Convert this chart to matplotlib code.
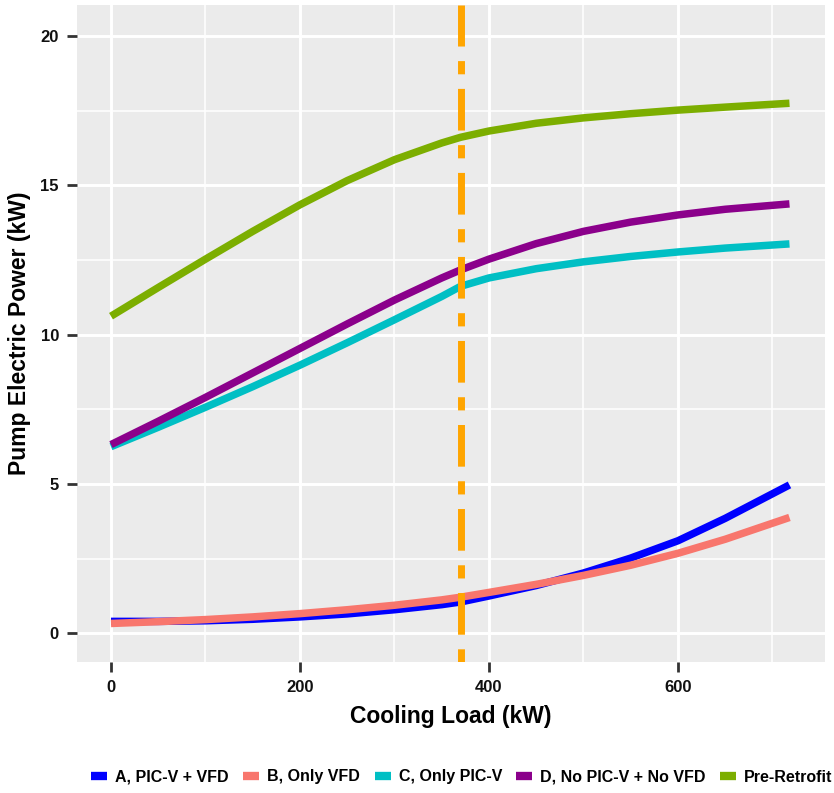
import matplotlib
matplotlib.use("Agg")
import matplotlib.pyplot as plt
from matplotlib.ticker import MultipleLocator
from matplotlib.lines import Line2D

plt.rcParams['font.family'] = ['Liberation Sans', 'DejaVu Sans']

# cooling load (kW)
load = [0, 50, 100, 150, 200, 250, 300, 350, 370, 400, 450, 500, 550, 600, 650, 718]

# pump electric power (kW) per scenario
pump_a = [0.40, 0.40, 0.42, 0.47, 0.55, 0.65, 0.79, 0.96, 1.05, 1.25, 1.60, 2.02, 2.52, 3.10, 3.85, 4.97]
pump_b = [0.33, 0.39, 0.46, 0.55, 0.66, 0.79, 0.94, 1.12, 1.21, 1.37, 1.64, 1.94, 2.28, 2.68, 3.15, 3.88]
pump_c = [6.25, 6.90, 7.57, 8.26, 8.98, 9.73, 10.50, 11.28, 11.62, 11.90, 12.21, 12.44, 12.62, 12.77, 12.90, 13.04]
pump_d = [6.32, 7.10, 7.90, 8.72, 9.54, 10.36, 11.16, 11.90, 12.17, 12.53, 13.05, 13.46, 13.77, 14.01, 14.20, 14.38]
pre_retrofit = [10.62, 11.58, 12.53, 13.46, 14.35, 15.16, 15.86, 16.42, 16.61, 16.82, 17.08, 17.26, 17.40, 17.52, 17.62, 17.75]

design_load = 370

series = [
    ("A, PIC-V + VFD", pump_a, "#0000FF"),
    ("B, Only VFD", pump_b, "#F8766D"),
    ("C, Only PIC-V", pump_c, "#00BFC4"),
    ("D, No PIC-V + No VFD", pump_d, "#8B008B"),
    ("Pre-Retrofit", pre_retrofit, "#7CAE00"),
]

fig = plt.figure(figsize=(8.34, 7.93), dpi=100)
ax = fig.add_axes([0.0923, 0.1652, 0.8969, 0.8285])
ax.set_facecolor("#EBEBEB")

for name, vals, col in series:
    ax.plot(load, vals, color=col, lw=5.4, solid_capstyle='butt', solid_joinstyle='round',
            label=name, zorder=3)

# design load marker, two-dash pattern
ax.axvline(design_load, color="#FFA500", lw=5.0, linestyle=(8.1, (6, 2.1, 1.9, 2.1)), zorder=4)

ax.set_xlim(-36, 755.6)
ax.set_ylim(-0.96, 21.04)
ax.xaxis.set_major_locator(MultipleLocator(200))
ax.xaxis.set_minor_locator(MultipleLocator(100))
ax.yaxis.set_major_locator(MultipleLocator(5))
ax.yaxis.set_minor_locator(MultipleLocator(2.5))
ax.grid(which='major', color='white', lw=2.1, zorder=0)
ax.grid(which='minor', color='white', lw=1.1, zorder=0)
ax.set_axisbelow(True)
for s in ax.spines.values():
    s.set_visible(False)

ax.tick_params(which='major', length=7, width=2, color='#333333', labelsize=12,
               labelcolor='#111111', pad=6)
ax.tick_params(which='minor', length=0)
for lab in ax.get_xticklabels() + ax.get_yticklabels():
    lab.set_fontweight('bold')

ax.set_xlabel("Cooling Load (kW)", fontsize=16.5, fontweight='bold', labelpad=7)
ax.set_ylabel("Pump Electric Power (kW)", fontsize=16.5, fontweight='bold', labelpad=7)

handles = [Line2D([], [], color=c, lw=6, solid_capstyle='butt') for _, _, c in series]
fig.legend(handles, [n for n, _, _ in series], loc='center', bbox_to_anchor=(462 / 834, 1 - 777 / 793),
           ncol=5, frameon=False, handlelength=1.0, handletextpad=0.5, columnspacing=0.9,
           prop={'weight': 'bold', 'size': 11.5})

fig.savefig("out.png", dpi=100)
